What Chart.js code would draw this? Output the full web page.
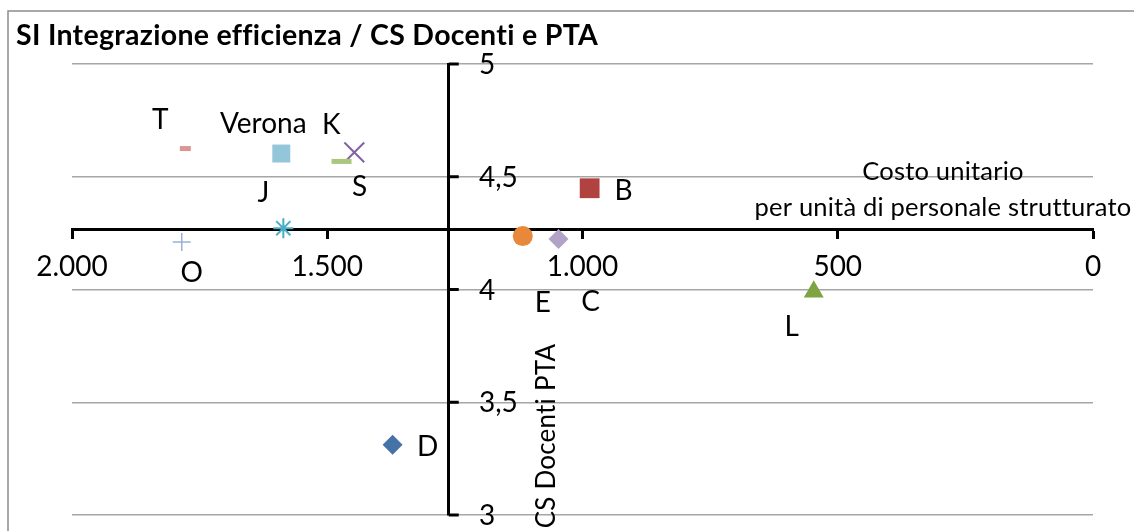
<!DOCTYPE html>
<html>
<head>
<meta charset="utf-8">
<script src="https://cdn.jsdelivr.net/npm/chart.js@4"></script>
<style>
  html, body { margin: 0; padding: 0; background: #fff; }
  canvas { display: block; }
</style>
</head>
<body>
<canvas id="myChart" width="1134" height="531"></canvas>
<script>
/* data */
const categories = ['T', 'Verona', 'K', 'S', 'J', 'O', 'E', 'C', 'B', 'L', 'D'];
const costValues = [1778, 1590, 1447, 1472, 1586, 1785, 1117, 1047, 986, 547, 1372];
const csValues = [4.625, 4.603, 4.608, 4.568, 4.272, 4.211, 4.237, 4.224, 4.449, 3.99, 3.311];

const xTickValues = [0, 500, 1000, 1500, 2000];
const xTickLabels = ['0', '500', '1.000', '1.500', '2.000'];
const yTickValues = [3, 3.5, 4, 4.5, 5];
const yTickLabels = ['3', '3,5', '4', '4,5', '5'];

// where the two axes cross
const xCross = 1262;
const yCross = 4.264;

/* marker styles */
const pointStyles = ['line', 'rect', 'crossRot', 'line', 'star', 'cross', 'circle', 'rectRot', 'rect', 'triangle', 'rectRot'];
const pointColors = ['#D99694', '#93C6D9', '#8064A2', '#A9C77D', '#4BACC6', '#95B3D7', '#E8883A', '#B3A2C7', '#B0433F', '#7FA342', '#4572A7'];
const pointRadii = [5.5, 12.7, 14, 10, 10, 9, 10, 10, 14, 11.5, 10];
const pointBorders = [5, 0, 2, 5, 2, 1.5, 0, 0, 0, 0, 0];
// label offset from the marker (dx, dy)
const labelOffsets = [[-25, -29], [-18, -30], [-23, -27], [18, 26], [-20, -35], [10, 31], [20, 67], [32, 63], [34, 3], [-22, 35], [35, 2]];

const FONT = 'Lato, "Open Sans", sans-serif';

/* plugin: frame, title, labels, y ticks */
const decorations = {
  id: 'decorations',
  beforeDraw(chart) {
    const ctx = chart.ctx;
    ctx.save();
    ctx.fillStyle = '#fff';
    ctx.fillRect(0, 0, chart.width, chart.height);
    ctx.strokeStyle = '#8c8c8c';
    ctx.lineWidth = 1.5;
    ctx.strokeRect(8, 11, chart.width + 20, chart.height + 20);
    ctx.fillStyle = '#000';
    ctx.font = 'bold 28.5px ' + FONT;
    ctx.letterSpacing = '0.3px'; // also stops the "ti" ligature
    ctx.textBaseline = 'alphabetic';
    ctx.textAlign = 'left';
    ctx.fillText('SI Integrazione efficienza / CS Docenti e PTA', 16, 45);
    ctx.restore();
  },
  afterDraw(chart) {
    const ctx = chart.ctx;
    const xs = chart.scales.x;
    const ys = chart.scales.y;
    const axisX = xs.getPixelForValue(xCross);
    ctx.save();

    // y tick marks + labels on the right side of the axis
    ctx.strokeStyle = '#000';
    ctx.lineWidth = 3;
    ctx.fillStyle = '#000';
    ctx.font = '28px ' + FONT;
    ctx.textAlign = 'left';
    ctx.textBaseline = 'middle';
    yTickValues.forEach((v, i) => {
      const py = ys.getPixelForValue(v);
      ctx.beginPath();
      ctx.moveTo(axisX, py);
      ctx.lineTo(axisX + 10, py);
      ctx.stroke();
      ctx.fillText(yTickLabels[i], 479, py + 1);
    });

    // axis titles
    ctx.letterSpacing = '0.2px';
    ctx.font = '25.5px ' + FONT;
    ctx.textAlign = 'center';
    ctx.fillText('Costo unitario', 943, 172);
    ctx.fillText('per unità di personale strutturato', 943, 208);

    ctx.save();
    ctx.translate(547, 436);
    ctx.rotate(-Math.PI / 2);
    ctx.font = '26px ' + FONT;
    ctx.fillText('CS Docenti PTA', 0, 0);
    ctx.restore();

    // data labels
    ctx.letterSpacing = '0px';
    ctx.font = '28px ' + FONT;
    const meta = chart.getDatasetMeta(0);
    meta.data.forEach((pt, i) => {
      ctx.fillText(categories[i], pt.x + labelOffsets[i][0], pt.y + labelOffsets[i][1]);
    });
    ctx.restore();
  }
};

const ctx = document.getElementById('myChart').getContext('2d');

const scatterChart = new Chart(ctx, {
  type: 'scatter',
  data: {
    datasets: [{
      label: 'CS Docenti PTA',
      data: categories.map((c, i) => ({ x: costValues[i], y: csValues[i] })),
      pointStyle: pointStyles,
      backgroundColor: pointColors,
      borderColor: pointColors,
      borderWidth: pointBorders,
      pointRadius: pointRadii,
      pointHoverRadius: pointRadii
    }]
  },
  options: {
    responsive: false,
    animation: false,
    devicePixelRatio: 1,
    layout: { padding: { left: 72, right: 41, top: 64, bottom: 15 } },
    plugins: {
      legend: { display: false },
      tooltip: { enabled: false },
      title: { display: false }
    },
    scales: {
      x: {
        type: 'linear',
        reverse: true,
        min: 0,
        max: 2000,
        position: { y: yCross },
        afterBuildTicks: axis => { axis.ticks = xTickValues.map(v => ({ value: v })); },
        ticks: {
          color: '#000',
          font: { family: FONT, size: 28 },
          padding: 12,
          maxRotation: 0,
          callback: val => xTickLabels[xTickValues.indexOf(val)]
        },
        grid: {
          drawOnChartArea: false,
          drawTicks: true,
          tickLength: 8,
          tickWidth: 3,
          tickColor: '#000'
        },
        border: { display: true, color: '#000', width: 3 }
      },
      y: {
        type: 'linear',
        min: 3,
        max: 5,
        position: { x: xCross },
        afterBuildTicks: axis => { axis.ticks = yTickValues.map(v => ({ value: v })); },
        ticks: { display: false },
        grid: {
          color: '#a6a6a6',
          lineWidth: 1.5,
          drawTicks: false
        },
        border: { display: true, color: '#000', width: 3 }
      }
    }
  },
  plugins: [decorations]
});
</script>
</body>
</html>
